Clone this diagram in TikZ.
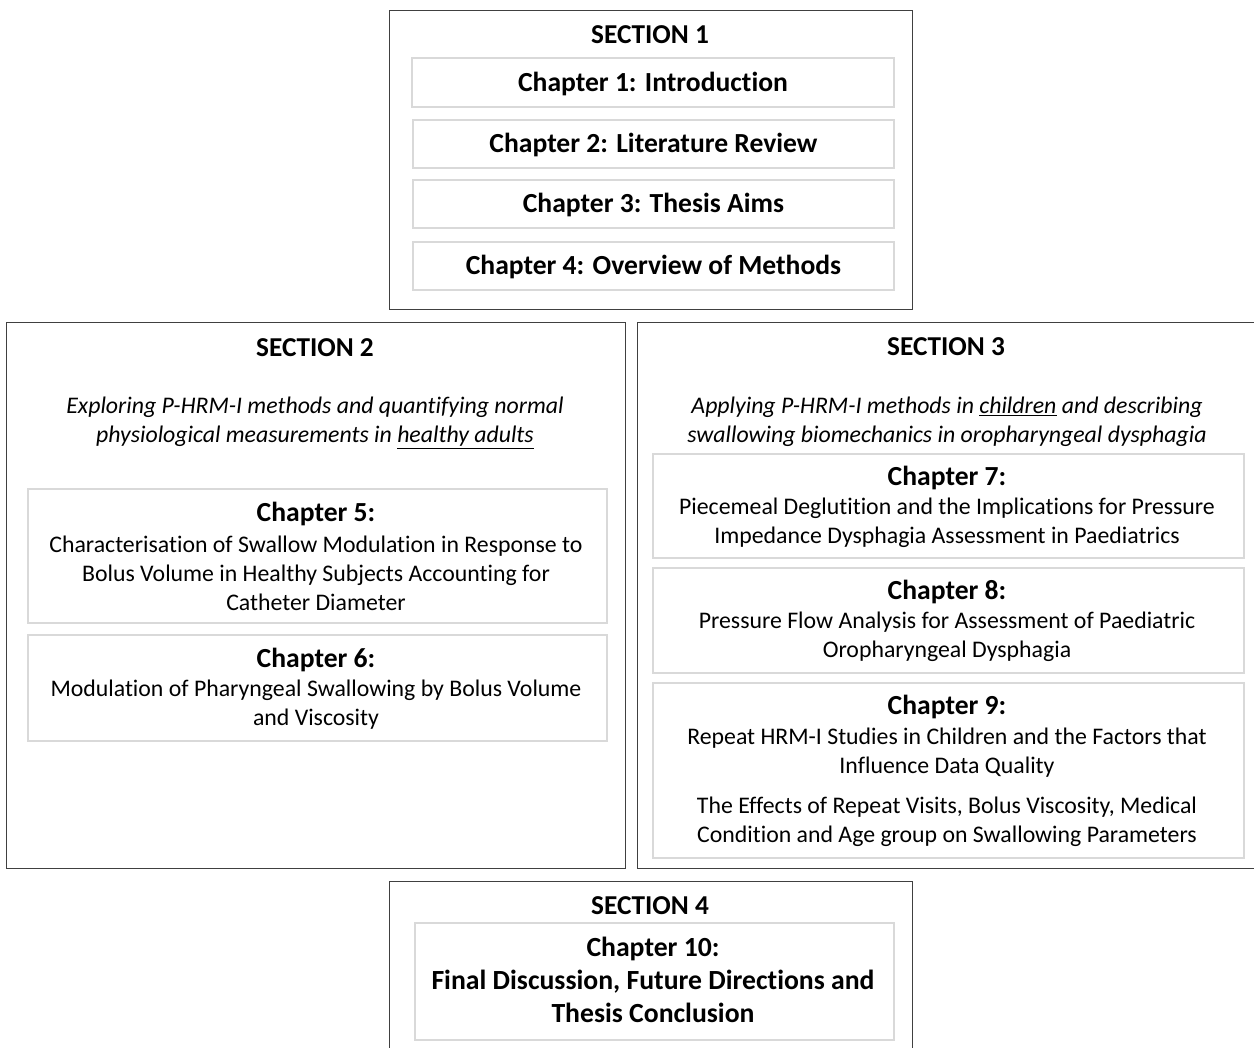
\documentclass[tikz,border=0pt]{standalone}
\usepackage{fontspec}
\setmainfont{Carlito}[Ligatures=NoCommon]
\begin{document}
\begin{tikzpicture}[x=1pt,y=-1pt,
  outer/.style={draw=black!75, line width=1.3pt, anchor=north west, inner sep=0pt},
  inner/.style={draw=black!15, line width=2pt, anchor=north west, inner sep=0pt},
  sechead/.style={font=\fontsize{27.3}{30}\selectfont\bfseries, inner sep=0pt},
  chtitle/.style={font=\fontsize{27.6}{30}\selectfont\bfseries, inner sep=0pt},
  body/.style={font=\fontsize{23.8}{29}\selectfont, align=center, inner sep=0pt},
  ital/.style={font=\fontsize{23.8}{29}\selectfont\itshape, align=center, inner sep=0pt},
  bigbody/.style={font=\fontsize{27.7}{33}\selectfont\bfseries, align=center, inner sep=0pt}]
\useasboundingbox (0,0) rectangle (1254,1048);
\clip (0,0) rectangle (1254,1048);
\fill[white] (0,0) rectangle (1254,1048);

% SECTION 1
\node[outer, minimum width=523pt, minimum height=299pt] (sec1) at (389,10) {};
\node[sechead] (s1h) at (650,35) {SECTION 1};
\node[inner, minimum width=482pt, minimum height=49pt] (c1box) at (411,57) {};
\node[chtitle] (c1) at ([yshift=-1pt]c1box.center) {Chapter 1: Introduction};
\node[inner, minimum width=481pt, minimum height=48pt] (c2box) at (412,119) {};
\node[chtitle] (c2) at ([yshift=-1pt]c2box.center) {Chapter 2: Literature Review};
\node[inner, minimum width=481pt, minimum height=48pt] (c3box) at (412,179) {};
\node[chtitle] (c3) at ([yshift=-1pt]c3box.center) {Chapter 3: Thesis Aims};
\node[inner, minimum width=481pt, minimum height=48pt] (c4box) at (412,241) {};
\node[chtitle] (c4) at ([yshift=-1pt]c4box.center) {Chapter 4: Overview of Methods};

% SECTION 2
\node[outer, minimum width=619pt, minimum height=546pt] (sec2) at (6,322) {};
\node[sechead] (s2h) at (315,348) {SECTION 2};
\node[ital] (s2t) at (315,423) {Exploring P-HRM-I methods and quantifying normal\\physiological measurements in \underline{healthy adults}};
\node[inner, minimum width=579pt, minimum height=134pt] (c5box) at (27,488) {};
\node[chtitle] (c5) at (316,514) {Chapter 5:};
\node[body] (c5t) at (316,573) {Characterisation of Swallow Modulation in Response to\\Bolus Volume in Healthy Subjects Accounting for\\Catheter Diameter};
\node[inner, minimum width=579pt, minimum height=106pt] (c6box) at (27,634) {};
\node[chtitle] (c6) at (316,660) {Chapter 6:};
\node[body] (c6t) at (316,705) {Modulation of Pharyngeal Swallowing by Bolus Volume\\and Viscosity};

% SECTION 3
\node[outer, minimum width=660pt, minimum height=546pt] (sec3) at (637,322) {};
\node[sechead] (s3h) at (946,347) {SECTION 3};
\node[ital] (s3t) at (947,422) {Applying P-HRM-I methods in \underline{children} and describing\\swallowing biomechanics in oropharyngeal dysphagia};
\node[inner, minimum width=591pt, minimum height=104pt] (c7box) at (652,453) {};
\node[chtitle] (c7) at (947,478) {Chapter 7:};
\node[body] (c7t) at (947,523) {Piecemeal Deglutition and the Implications for Pressure\\Impedance Dysphagia Assessment in Paediatrics};
\node[inner, minimum width=591pt, minimum height=105pt] (c8box) at (652,567) {};
\node[chtitle] (c8) at (947,592) {Chapter 8:};
\node[body] (c8t) at (947,637) {Pressure Flow Analysis for Assessment of Paediatric\\Oropharyngeal Dysphagia};
\node[inner, minimum width=591pt, minimum height=175pt] (c9box) at (652,682) {};
\node[chtitle] (c9) at (947,707) {Chapter 9:};
\node[body] (c9t) at (947,753) {Repeat HRM-I Studies in Children and the Factors that\\Influence Data Quality};
\node[body] (c9u) at (947,822) {The Effects of Repeat Visits, Bolus Viscosity, Medical\\Condition and Age group on Swallowing Parameters};

% SECTION 4
\node[outer, minimum width=523pt, minimum height=250pt] (sec4) at (389,881) {};
\node[sechead] (s4h) at (650,906) {SECTION 4};
\node[inner, minimum width=479pt, minimum height=117pt] (c10box) at (414,922) {};
\node[bigbody] (c10) at (653,980) {Chapter 10:\\Final Discussion, Future Directions and\\Thesis Conclusion};
\end{tikzpicture}
\end{document}
